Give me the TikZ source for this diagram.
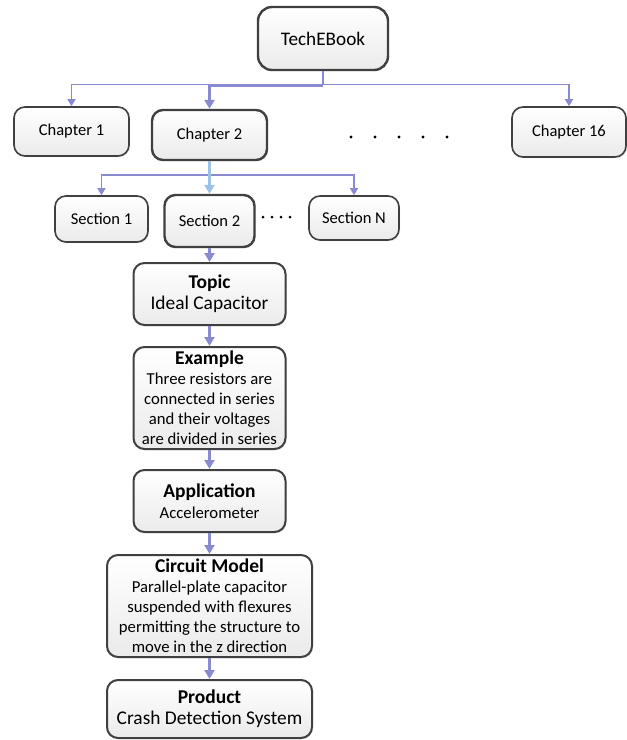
\documentclass[tikz,border=0pt]{standalone}
\usepackage{fontspec}
\setmainfont{Carlito}
\usetikzlibrary{arrows.meta,shadows}
\definecolor{lav}{RGB}{138,138,208}
\definecolor{lblue}{RGB}{156,194,230}
\definecolor{edge}{RGB}{64,64,64}
\tikzset{
  box/.style={draw=edge, line width=1.6pt, rounded corners=11pt,
    top color=white, bottom color=black!8, align=center, inner sep=0pt,
    font=\fontsize{16.5}{20}\selectfont,
    drop shadow={shadow xshift=1.2pt, shadow yshift=-1.2pt, opacity=0.2}},
  thickbox/.style={box, line width=2.4pt},
  conn/.style={draw=lav, line width=1.4pt, -{Triangle[width=8pt,length=7pt]}},
  thickconn/.style={draw=lav, line width=2.6pt, -{Triangle[width=10pt,length=9pt]}},
  blueconn/.style={draw=lblue, line width=2.6pt, -{Triangle[width=10pt,length=9pt]}},
}
\newcommand{\tl}[1]{{\bfseries\fontsize{19.5}{21}\selectfont #1}}
\newcommand{\bdy}[1]{{\fontsize{16.7}{20}\selectfont #1}}
\newcommand{\bbig}[1]{{\fontsize{19.4}{22}\selectfont #1}}
\begin{document}
\begin{tikzpicture}[x=1pt,y=-1pt]
\useasboundingbox (0,0) rectangle (627,740);
% nodes
\node[thickbox, rounded corners=14pt, minimum width=130pt, minimum height=63pt,
      font=\fontsize{19.2}{22}\selectfont] (book) at (323,38.5) {TechEBook};
\node[box, minimum width=115pt, minimum height=49pt] (ch1) at (71.5,131.5) {Chapter 1};
\node[thickbox, minimum width=115pt, minimum height=50pt] (ch2) at (209.5,135) {Chapter 2};
\node[box, minimum width=114pt, minimum height=50pt] (ch16) at (569,132) {Chapter 16};
\node[box, minimum width=93pt, minimum height=46pt] (s1) at (101.5,219) {Section 1};
\node[thickbox, minimum width=90pt, minimum height=52pt] (s2) at (209.5,221) {Section 2};
\node[box, minimum width=90pt, minimum height=44pt] (sN) at (354,218) {Section N};
\node[box, line width=2pt, minimum width=152pt, minimum height=62pt] (topic) at (209.5,294)
  {\tl{Topic}\\[1pt]\bbig{Ideal Capacitor}};
\node[box, line width=2pt, minimum width=152pt, minimum height=102pt] (example) at (209.5,398)
  {\tl{Example}\\\bdy{Three resistors are}\\\bdy{connected in series}\\\bdy{and their voltages}\\\bdy{are divided in series}};
\node[box, line width=2pt, minimum width=152pt, minimum height=62pt] (app) at (209.5,501)
  {\tl{Application}\\[1pt]\bdy{Accelerometer}};
\node[box, line width=2pt, minimum width=205pt, minimum height=102pt] (circ) at (209.5,606)
  {\tl{Circuit Model}\\\bdy{Parallel-plate capacitor}\\\bdy{suspended with flexures}\\\bdy{permitting the structure to}\\\bdy{move in the z direction}};
\node[box, line width=2pt, minimum width=205pt, minimum height=58pt] (prod) at (209.5,709)
  {\tl{Product}\\[1pt]\bbig{Crash Detection System}};
% dots
\foreach \xx in {351,375,399,423,447} \fill (\xx,137) circle (1.7pt);
\foreach \xx in {263,272,281,290} \fill (\xx,217) circle (1.5pt);
% connectors
\coordinate (j) at ([yshift=-13pt]book.south);
\draw[draw=lav, line width=1.4pt] (book.south) -- (j);
\draw[conn] (j) -| (ch1.north);
\draw[conn] (j) -| (ch16.north);
\draw[thickconn] ([yshift=-14pt]book.south) -| (ch2.north);
\coordinate (k) at (209.5,175);
\draw[conn] (k) -| (s1.north);
\draw[conn] (k) -| (sN.north);
\draw[blueconn] (ch2.south) -- (s2.north);
\draw[thickconn] (s2.south) -- (topic.north);
\draw[thickconn] (topic.south) -- (example.north);
\draw[thickconn] (example.south) -- (app.north);
\draw[thickconn] (app.south) -- (circ.north);
\draw[thickconn] (circ.south) -- (prod.north);
\end{tikzpicture}
\end{document}
